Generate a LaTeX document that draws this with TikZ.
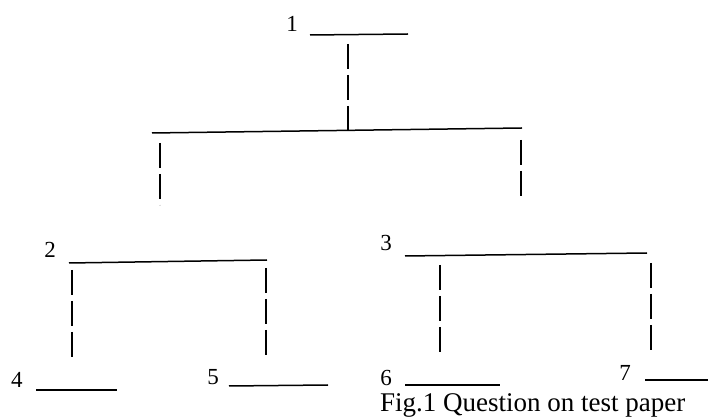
\documentclass[tikz,border=0pt]{standalone}
\usepackage{fontspec}
\setmainfont{Liberation Serif}
\begin{document}
\begin{tikzpicture}[x=1pt,y=-1pt,
  blank/.style={line width=1.5pt},
  link/.style={line width=1.5pt,dash pattern=on 25pt off 6pt},
  num/.style={font=\fontsize{23}{27}\selectfont,inner sep=0pt,anchor=base},
  captext/.style={font=\fontsize{27}{31}\selectfont,inner sep=0pt,anchor=base west}]
\useasboundingbox (0,0) rectangle (710,419);
% labels
\node[num] (n1) at (292,32) {1};
\node[num] (n2) at (50,258) {2};
\node[num] (n3) at (386,251) {3};
\node[num] (n4) at (17,388) {4};
\node[num] (n5) at (213,385) {5};
\node[num] (n6) at (386,386) {6};
\node[num] (n7) at (625,381) {7};
% blank lines
\coordinate (a1) at (310,35); \coordinate (b1) at (408,34);
\coordinate (a2) at (69,263); \coordinate (b2) at (267,260);
\coordinate (a3) at (405,256); \coordinate (b3) at (647,253);
\coordinate (a4) at (36,390); \coordinate (b4) at (117,390);
\coordinate (a5) at (229,386); \coordinate (b5) at (328,385);
\coordinate (a6) at (405,385); \coordinate (b6) at (500,385);
\coordinate (a7) at (645,380); \coordinate (b7) at (708,380);
\coordinate (ha) at (152,133); \coordinate (hb) at (522,128);
\draw[blank] (a1) -- (b1);
\draw[blank] (a2) -- (b2);
\draw[blank] (a3) -- (b3);
\draw[blank] (a4) -- (b4);
\draw[blank] (a5) -- (b5);
\draw[blank] (a6) -- (b6);
\draw[blank] (a7) -- (b7);
\draw[blank] (ha) -- (hb);
% dashed links
\coordinate (t1) at (348,44); \coordinate (m1) at (348,131);
\coordinate (t2) at (160,143); \coordinate (m2) at (160,205);
\coordinate (t3) at (521,140); \coordinate (m3) at (521,200);
\coordinate (t4) at (72,270); \coordinate (m4) at (72,361);
\coordinate (t5) at (266,268); \coordinate (m5) at (266,358);
\coordinate (t6) at (440,265); \coordinate (m6) at (440,356);
\coordinate (t7) at (651,263); \coordinate (m7) at (651,354);
\draw[link] (t1) -- (m1);
\draw[link] (t2) -- (m2);
\draw[link] (t3) -- (m3);
\draw[link] (t4) -- (m4);
\draw[link] (t5) -- (m5);
\draw[link] (t6) -- (m6);
\draw[link] (t7) -- (m7);
% caption
\node[captext] (capt) at (380,412) {Fig.1 Question on test paper};
\end{tikzpicture}
\end{document}
